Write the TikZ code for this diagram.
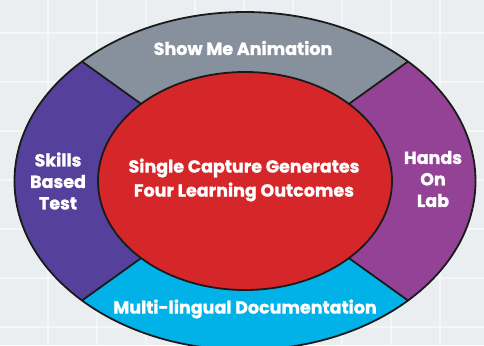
\documentclass[tikz,border=0pt]{standalone}
\usepackage{fontspec}
\usetikzlibrary{calc}
\setmainfont{Poppins}[BoldFont={Poppins Bold}, BoldFeatures={FakeBold=1.2}]
\definecolor{bgc}{RGB}{235,238,241}
\definecolor{greyseg}{RGB}{135,145,158}
\definecolor{leftseg}{RGB}{85,65,155}
\definecolor{rightseg}{RGB}{148,66,150}
\definecolor{cyanseg}{RGB}{0,178,232}
\definecolor{redcore}{RGB}{213,38,41}
\definecolor{edge}{RGB}{26,26,26}
\tikzset{
  lbl/.style={text=white, font=\bfseries\fontsize{17.5}{21.5}\selectfont, align=center, inner sep=0pt},
  corelbl/.style={lbl, font=\bfseries\fontsize{17.5}{24}\selectfont},
  edgeline/.style={draw=edge, line width=1.8pt},
  gridline/.style={draw=white, line width=1.4pt, opacity=0.5}
}
\begin{document}
\begin{tikzpicture}[x=1pt,y=-1pt]
\useasboundingbox (0,0) rectangle (484,345);
\clip (0,0) rectangle (484,345);
\fill[bgc] (0,0) rectangle (484,345);
\foreach \gx in {48,97,146,195,244,293,342,391,440} \draw[gridline] (\gx,0) -- (\gx,345);
\foreach \gy in {33,82,131,180,229,278,327} \draw[gridline] (0,\gy) -- (484,\gy);
\coordinate (c) at (245,181);
% segments
\begin{scope}
\clip (c) ellipse [x radius=230.5pt, y radius=169pt];
\fill[greyseg] (c) -- (-79,-57) -- (569,-57) -- cycle;
\fill[leftseg] (c) -- (-79,-57) -- (-79,419) -- cycle;
\fill[rightseg] (c) -- (569,-57) -- (569,419) -- cycle;
\fill[cyanseg] (c) -- (-79,419) -- (569,419) -- cycle;
\end{scope}
\draw[edgeline] (c) ellipse [x radius=230.5pt, y radius=169pt];
% dividing lines
\coordinate (otl) at ($(c)+(-163.0,-119.5)$);
\coordinate (otr) at ($(c)+(163.0,-119.5)$);
\coordinate (obl) at ($(c)+(-163.0,119.5)$);
\coordinate (obr) at ($(c)+(163.0,119.5)$);
\coordinate (itl) at ($(c)+(-103.9,-77.1)$);
\coordinate (itr) at ($(c)+(103.9,-77.1)$);
\coordinate (ibl) at ($(c)+(-103.9,77.1)$);
\coordinate (ibr) at ($(c)+(103.9,77.1)$);
\draw[edgeline] (itl) -- (otl);
\draw[edgeline] (itr) -- (otr);
\draw[edgeline] (ibl) -- (obl);
\draw[edgeline] (ibr) -- (obr);
% core
\draw[edgeline, fill=redcore] (c) ellipse [x radius=147pt, y radius=109pt];
% labels
\node[corelbl] (core) at (244,180) {Single Capture Generates\\Four Learning Outcomes};
\node[lbl] (top) at (243,48) {Show Me Animation};
\node[lbl] (left) at (58,181) {Skills\\Based\\Test};
\node[lbl] (right) at (433,179) {Hands\\On\\Lab};
\node[lbl] (bottom) at (245,309) {Multi-lingual Documentation};
\end{tikzpicture}
\end{document}
